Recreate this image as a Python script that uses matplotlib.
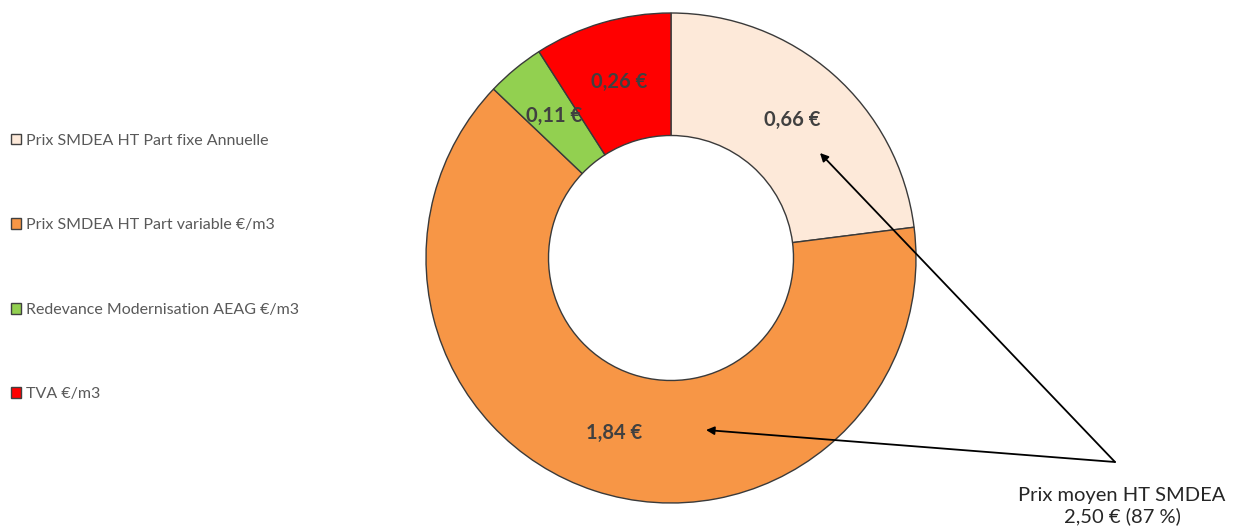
import matplotlib.pyplot as plt

plt.rcParams["font.family"] = ["Lato", "DejaVu Sans"]

# data
categories = [
    "Prix SMDEA HT Part fixe Annuelle",
    "Prix SMDEA HT Part variable €/m3",
    "Redevance Modernisation AEAG €/m3",
    "TVA €/m3",
]
values = [0.66, 1.84, 0.11, 0.26]
colors = ["#FDE9D9", "#F79646", "#92D050", "#FF0000"]
note_text = "Prix moyen HT SMDEA\n2,50 € (87 %)"

W, H = 1241, 530
fig = plt.figure(figsize=(W / 100, H / 100), dpi=100)
ax = fig.add_axes([0, 0, 1, 1])

total = sum(values)


def fmt(pct):
    return f"{pct * total / 100:.2f} €".replace(".", ",")


wedges, texts, autotexts = ax.pie(
    values,
    colors=colors,
    startangle=90,
    counterclock=False,
    center=(671, 272),
    radius=245,
    autopct=fmt,
    pctdistance=0.75,
    wedgeprops=dict(width=245 * 0.5, edgecolor="#3a3a3a", linewidth=1.0),
    textprops=dict(fontsize=14.5, fontweight="bold", color="#404040"),
    frame=True,
)
ax.set_xlim(0, W)
ax.set_ylim(0, H)
ax.set_aspect("equal")
ax.axis("off")

leg = ax.legend(
    wedges,
    categories,
    loc="upper left",
    bbox_to_anchor=(-0.003, 0.775),
    frameon=False,
    fontsize=11.5,
    labelspacing=4.42,
    handlelength=0.65,
    handleheight=0.65,
    handletextpad=0.3,
    labelcolor="#595959",
)
for h in leg.legend_handles:
    h.set_edgecolor("#404040")

# annotation arrows
apex = (1115, 68)
for tip in [(820, 377), (706, 100)]:
    ax.annotate(
        "",
        xy=tip,
        xytext=apex,
        arrowprops=dict(arrowstyle="-|>", color="black", lw=1.3, mutation_scale=12,
                        shrinkA=0, shrinkB=0),
    )
ax.text(1122, 24, note_text, ha="center", va="center", fontsize=14.5,
        color="#262626", linespacing=1.2)

fig.savefig("out.png", dpi=100)
